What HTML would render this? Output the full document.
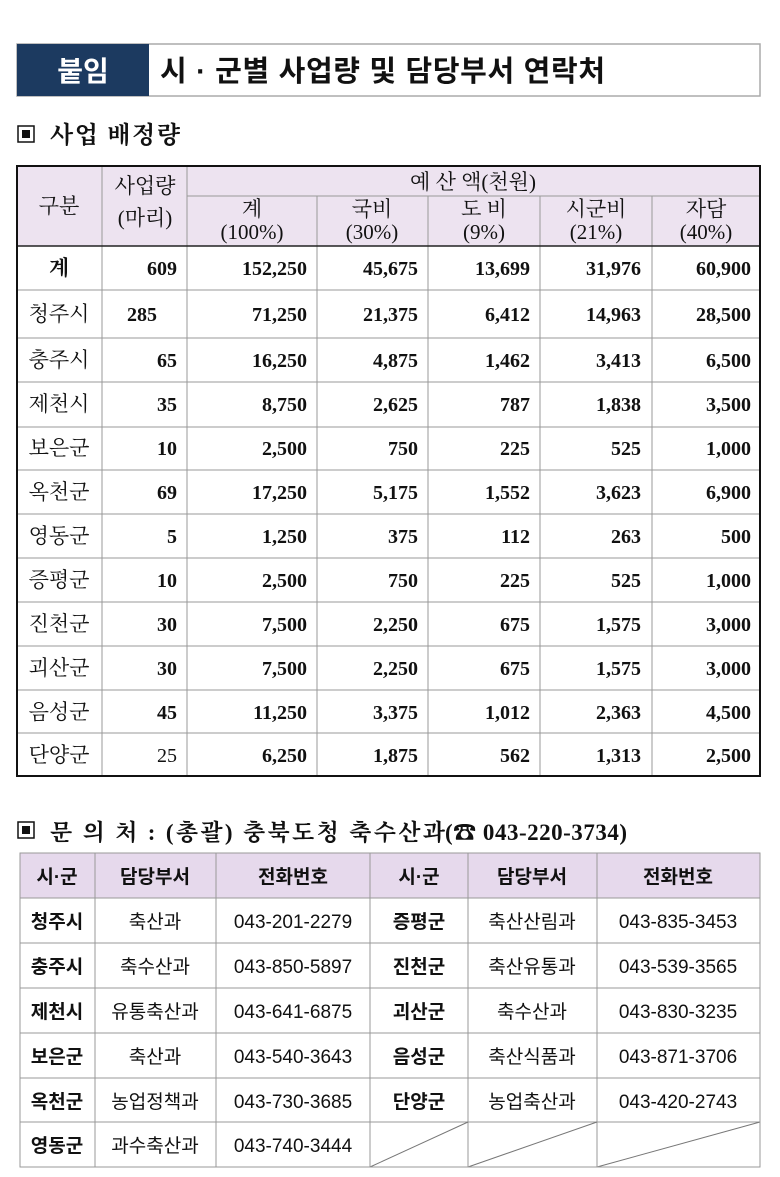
<!DOCTYPE html>
<html><head><meta charset="utf-8"><style>
html,body{margin:0;padding:0;background:#fff;}
svg{display:block;}
.s{font-family:"Liberation Serif","Noto Serif CJK KR",serif;}
.n{font-family:"Liberation Serif","Noto Serif CJK KR",serif;font-weight:bold;font-size:20px;}
.g{font-family:"Liberation Sans","Noto Sans CJK KR",sans-serif;}
</style></head><body>
<svg width="780" height="1177" xmlns="http://www.w3.org/2000/svg">
<rect x="17" y="44" width="743" height="52" fill="#fff" stroke="#aaa" stroke-width="1.5"/>
<rect x="17" y="44" width="132" height="52" fill="#1c3a60"/>
<text x="83" y="81" text-anchor="middle" class="g" font-size="28" font-weight="bold" fill="#fff">붙임</text>
<text x="160" y="81" class="g" font-size="29" font-weight="bold" fill="#111" textLength="445">시 · 군별 사업량 및 담당부서 연락처</text>
<rect x="18" y="126" width="16" height="16" fill="none" stroke="#111" stroke-width="1.5"/><rect x="22" y="130" width="8" height="8" fill="#111"/>
<text x="50" y="143" class="s" font-size="24" font-weight="bold" fill="#111" textLength="130">사업 배정량</text>

<rect x="17" y="166" width="743" height="80" fill="#ede3f0"/>
<g stroke="#999" stroke-width="1">
<line x1="187" y1="196" x2="760" y2="196"/>
<line x1="102" y1="166" x2="102" y2="776"/><line x1="187" y1="166" x2="187" y2="776"/>
<line x1="317" y1="196" x2="317" y2="776"/><line x1="428" y1="196" x2="428" y2="776"/>
<line x1="540" y1="196" x2="540" y2="776"/><line x1="652" y1="196" x2="652" y2="776"/>
<line x1="17" y1="290" x2="760" y2="290"/><line x1="17" y1="338" x2="760" y2="338"/>
<line x1="17" y1="382" x2="760" y2="382"/><line x1="17" y1="427" x2="760" y2="427"/>
<line x1="17" y1="470" x2="760" y2="470"/><line x1="17" y1="514" x2="760" y2="514"/>
<line x1="17" y1="558" x2="760" y2="558"/><line x1="17" y1="602" x2="760" y2="602"/>
<line x1="17" y1="646" x2="760" y2="646"/><line x1="17" y1="690" x2="760" y2="690"/>
<line x1="17" y1="733" x2="760" y2="733"/>
</g>
<line x1="17" y1="246" x2="760" y2="246" stroke="#222" stroke-width="1.5"/>
<rect x="17" y="166" width="743" height="610" fill="none" stroke="#111" stroke-width="2"/>
<g class="s" font-size="21" fill="#111" text-anchor="middle">
<text x="59" y="213">구분</text>
<text x="145" y="193">사업량</text><text x="145" y="225">(마리)</text>
<text x="473" y="189">예    산    액(천원)</text>
<text x="252" y="216">계</text><text x="252" y="239">(100%)</text>
<text x="372" y="216">국비</text><text x="372" y="239">(30%)</text>
<text x="484" y="216">도  비</text><text x="484" y="239">(9%)</text>
<text x="596" y="216">시군비</text><text x="596" y="239">(21%)</text>
<text x="706" y="216">자담</text><text x="706" y="239">(40%)</text>
<text x="59" y="275" font-weight="bold">계</text>
<text x="59" y="321">청주시</text><text x="59" y="367">충주시</text><text x="59" y="411">제천시</text>
<text x="59" y="455">보은군</text><text x="59" y="499">옥천군</text><text x="59" y="543">영동군</text>
<text x="59" y="587">증평군</text><text x="59" y="631">진천군</text><text x="59" y="675">괴산군</text>
<text x="59" y="719">음성군</text><text x="59" y="762">단양군</text>
</g>
<g class="n" fill="#111" text-anchor="end">
<text x="177" y="275">609</text><text x="307" y="275">152,250</text><text x="418" y="275">45,675</text><text x="530" y="275">13,699</text><text x="641" y="275">31,976</text><text x="751" y="275">60,900</text>
<text x="157" y="321">285</text><text x="307" y="321">71,250</text><text x="418" y="321">21,375</text><text x="530" y="321">6,412</text><text x="641" y="321">14,963</text><text x="751" y="321">28,500</text>
<text x="177" y="367">65</text><text x="307" y="367">16,250</text><text x="418" y="367">4,875</text><text x="530" y="367">1,462</text><text x="641" y="367">3,413</text><text x="751" y="367">6,500</text>
<text x="177" y="411">35</text><text x="307" y="411">8,750</text><text x="418" y="411">2,625</text><text x="530" y="411">787</text><text x="641" y="411">1,838</text><text x="751" y="411">3,500</text>
<text x="177" y="455">10</text><text x="307" y="455">2,500</text><text x="418" y="455">750</text><text x="530" y="455">225</text><text x="641" y="455">525</text><text x="751" y="455">1,000</text>
<text x="177" y="499">69</text><text x="307" y="499">17,250</text><text x="418" y="499">5,175</text><text x="530" y="499">1,552</text><text x="641" y="499">3,623</text><text x="751" y="499">6,900</text>
<text x="177" y="543">5</text><text x="307" y="543">1,250</text><text x="418" y="543">375</text><text x="530" y="543">112</text><text x="641" y="543">263</text><text x="751" y="543">500</text>
<text x="177" y="587">10</text><text x="307" y="587">2,500</text><text x="418" y="587">750</text><text x="530" y="587">225</text><text x="641" y="587">525</text><text x="751" y="587">1,000</text>
<text x="177" y="631">30</text><text x="307" y="631">7,500</text><text x="418" y="631">2,250</text><text x="530" y="631">675</text><text x="641" y="631">1,575</text><text x="751" y="631">3,000</text>
<text x="177" y="675">30</text><text x="307" y="675">7,500</text><text x="418" y="675">2,250</text><text x="530" y="675">675</text><text x="641" y="675">1,575</text><text x="751" y="675">3,000</text>
<text x="177" y="719">45</text><text x="307" y="719">11,250</text><text x="418" y="719">3,375</text><text x="530" y="719">1,012</text><text x="641" y="719">2,363</text><text x="751" y="719">4,500</text>
<text x="177" y="762" font-weight="normal">25</text><text x="307" y="762">6,250</text><text x="418" y="762">1,875</text><text x="530" y="762">562</text><text x="641" y="762">1,313</text><text x="751" y="762">2,500</text>
</g>

<rect x="18" y="822" width="16" height="16" fill="none" stroke="#111" stroke-width="1.5"/><rect x="22" y="826" width="8" height="8" fill="#111"/>
<text x="50" y="840" class="s" font-size="23" font-weight="bold" fill="#111" textLength="395">문  의  처 : (총괄)  충북도청  축수산과</text>
<text x="445" y="840" class="s" font-size="23" font-weight="bold" fill="#111" textLength="182">(☎ 043-220-3734)</text>

<rect x="20" y="853" width="740" height="45" fill="#e6d9ec"/>
<g stroke="#999" stroke-width="1">
<line x1="95" y1="853" x2="95" y2="1167"/><line x1="216" y1="853" x2="216" y2="1167"/>
<line x1="370" y1="853" x2="370" y2="1167"/><line x1="468" y1="853" x2="468" y2="1167"/>
<line x1="597" y1="853" x2="597" y2="1167"/>
<line x1="20" y1="898" x2="760" y2="898"/><line x1="20" y1="943" x2="760" y2="943"/>
<line x1="20" y1="988" x2="760" y2="988"/><line x1="20" y1="1033" x2="760" y2="1033"/>
<line x1="20" y1="1078" x2="760" y2="1078"/><line x1="20" y1="1122" x2="760" y2="1122"/>
<line x1="370" y1="1167" x2="468" y2="1122" stroke="#777"/><line x1="468" y1="1167" x2="597" y2="1122" stroke="#777"/><line x1="597" y1="1167" x2="760" y2="1122" stroke="#777"/>
<rect x="20" y="853" width="740" height="314" fill="none"/>
</g>
<g class="g" font-size="19" fill="#111" text-anchor="middle">
<g font-weight="bold">
<text x="57" y="883">시·군</text><text x="155" y="883">담당부서</text><text x="293" y="883">전화번호</text>
<text x="419" y="883">시·군</text><text x="532" y="883">담당부서</text><text x="678" y="883">전화번호</text>
<text x="57" y="928">청주시</text><text x="57" y="973">충주시</text><text x="57" y="1018">제천시</text><text x="57" y="1063">보은군</text><text x="57" y="1108">옥천군</text><text x="57" y="1152">영동군</text>
<text x="419" y="928">증평군</text><text x="419" y="973">진천군</text><text x="419" y="1018">괴산군</text><text x="419" y="1063">음성군</text><text x="419" y="1108">단양군</text>
</g>
<text x="155" y="928">축산과</text><text x="155" y="973">축수산과</text><text x="155" y="1018">유통축산과</text><text x="155" y="1063">축산과</text><text x="155" y="1108">농업정책과</text><text x="155" y="1152">과수축산과</text>
<text x="293" y="928">043-201-2279</text><text x="293" y="973">043-850-5897</text><text x="293" y="1018">043-641-6875</text><text x="293" y="1063">043-540-3643</text><text x="293" y="1108">043-730-3685</text><text x="293" y="1152">043-740-3444</text>
<text x="532" y="928">축산산림과</text><text x="532" y="973">축산유통과</text><text x="532" y="1018">축수산과</text><text x="532" y="1063">축산식품과</text><text x="532" y="1108">농업축산과</text>
<text x="678" y="928">043-835-3453</text><text x="678" y="973">043-539-3565</text><text x="678" y="1018">043-830-3235</text><text x="678" y="1063">043-871-3706</text><text x="678" y="1108">043-420-2743</text>
</g>
</svg>
</body></html>
